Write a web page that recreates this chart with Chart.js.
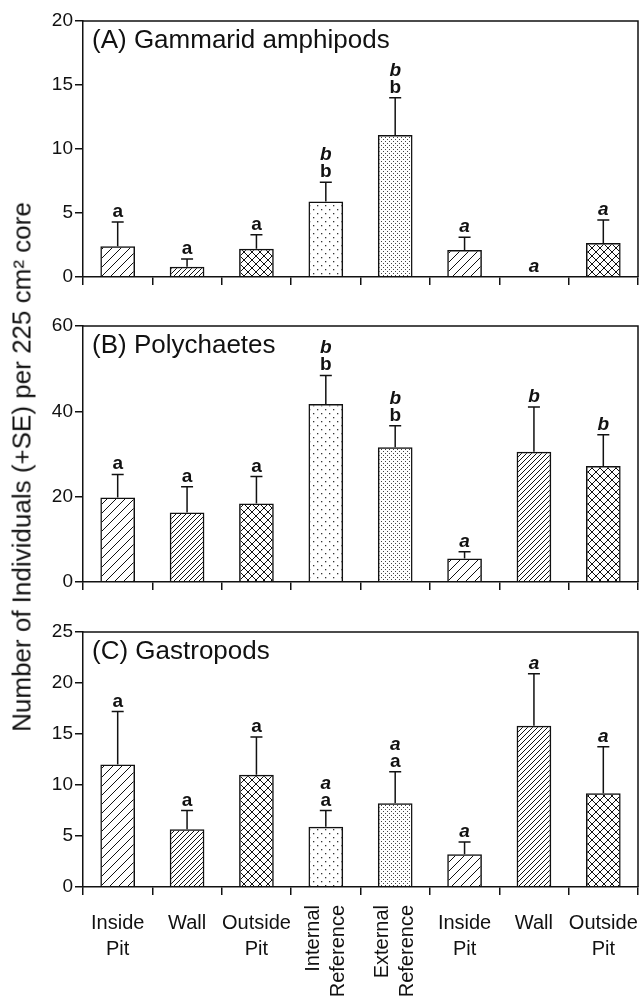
<!DOCTYPE html>
<html>
<head>
<meta charset="utf-8">
<script src="https://cdn.jsdelivr.net/npm/chart.js@4.4.1/dist/chart.umd.min.js"></script>
<style>
    body { margin: 0; background: #fff; }
    #wrap { position: relative; width: 641px; height: 996px; overflow: hidden; background: #fff; }
    canvas { position: absolute; left: 0; }
    #yTitle {
        position: absolute; left: 22px; top: 467px;
        transform: translate(-50%, -50%) rotate(-90deg);
        white-space: nowrap; color: #111;
        font: 26px "Liberation Sans", Arial, sans-serif;
    }
</style>
</head>
<body>
<div id="wrap">
    <canvas id="panelA" width="641" height="300" style="top:0"></canvas>
    <canvas id="panelB" width="641" height="300" style="top:300px"></canvas>
    <canvas id="panelC" width="641" height="396" style="top:600px"></canvas>
    <div id="yTitle">Number of Individuals (+SE) per 225 cm² core</div>
</div>
<script>
// categories along the x axis (same for all three panels)
const categories = [['Inside', 'Pit'], ['Wall'], ['Outside', 'Pit'], ['Internal', 'Reference'],
    ['External', 'Reference'], ['Inside', 'Pit'], ['Wall'], ['Outside', 'Pit']];
const rotatedLabel = [false, false, false, true, true, false, false, false];
const fillKinds = ['wide', 'dense', 'cross', 'sparseDots', 'denseDots', 'wide', 'dense', 'cross'];

// (A) Gammarid amphipods
const amphipodMeans = [2.4, 0.8, 2.2, 5.9, 11.1, 2.1, 0, 2.65];
const amphipodSE = [1.9, 0.6, 1.1, 1.5, 2.9, 1.0, 0, 1.8];
const amphipodPlain = ['a', 'a', 'a', 'b', 'b', '', '', ''];
const amphipodItalic = ['', '', '', 'b', 'b', 'a', 'a', 'a'];

// (B) Polychaetes
const polyMeans = [19.8, 16.3, 18.4, 41.7, 31.6, 5.5, 30.5, 27.2];
const polySE = [5.4, 6.0, 6.3, 6.7, 5.0, 1.6, 10.5, 7.3];
const polyPlain = ['a', 'a', 'a', 'b', 'b', '', '', ''];
const polyItalic = ['', '', '', 'b', 'b', 'a', 'b', 'b'];

// (C) Gastropods
const gastroMeans = [12.0, 5.65, 11.0, 5.9, 8.2, 3.2, 15.8, 9.2];
const gastroSE = [5.2, 1.85, 3.7, 1.6, 3.1, 1.2, 5.1, 4.55];
const gastroPlain = ['a', 'a', 'a', 'a', 'a', '', '', ''];
const gastroItalic = ['', '', '', 'a', 'a', 'a', 'a', 'a'];

const FONT = '"Liberation Sans", Arial, sans-serif';
const INK = '#111';

// hatch / dot fills
const makePattern = kind => {
    const c = document.createElement('canvas');
    const g = c.getContext('2d');
    const diag = (s, both) => {
        c.width = c.height = s;
        g.strokeStyle = INK;
        g.lineWidth = 1;
        g.beginPath();
        g.moveTo(0, s); g.lineTo(s, 0);
        g.moveTo(-1, 1); g.lineTo(1, -1);
        g.moveTo(s - 1, s + 1); g.lineTo(s + 1, s - 1);
        if (both) {
            g.moveTo(0, 0); g.lineTo(s, s);
            g.moveTo(-1, s - 1); g.lineTo(1, s + 1);
            g.moveTo(s - 1, -1); g.lineTo(s + 1, 1);
        }
        g.stroke();
    };
    if (kind === 'wide') diag(9, false);
    if (kind === 'dense') diag(5, false);
    if (kind === 'cross') diag(8, true);
    if (kind === 'sparseDots') {
        c.width = c.height = 8;
        g.fillStyle = '#333';
        g.fillRect(1, 1, 1.3, 1.3);
        g.fillRect(5, 5, 1.3, 1.3);
    }
    if (kind === 'denseDots') {
        c.width = c.height = 4;
        g.fillStyle = '#444';
        g.fillRect(1, 1, 1, 1);
        g.fillRect(3, 3, 1, 1);
    }
    return g.createPattern(c, 'repeat');
};

// box, error bars, letters, panel title, x labels
const panelPlugin = {
    id: 'panelExtras',
    afterDatasetsDraw(chart) {
        const o = chart.options.plugins.panelExtras;
        const { ctx, chartArea: a } = chart;
        const y = chart.scales.y;
        const meta = chart.getDatasetMeta(0);

        ctx.save();
        ctx.strokeStyle = INK;
        ctx.lineWidth = 1.5;
        ctx.beginPath();
        ctx.moveTo(a.left, a.top); ctx.lineTo(a.right, a.top); ctx.lineTo(a.right, a.bottom);
        ctx.stroke();

        meta.data.forEach((bar, i) => {
            const top = y.getPixelForValue(o.means[i] + o.se[i]);
            if (o.se[i] > 0) {
                ctx.beginPath();
                ctx.moveTo(bar.x, bar.y); ctx.lineTo(bar.x, top);
                ctx.moveTo(bar.x - 6, top); ctx.lineTo(bar.x + 6, top);
                ctx.stroke();
            }
            ctx.fillStyle = INK;
            ctx.textAlign = 'center';
            ctx.textBaseline = 'alphabetic';
            let base = top - 5;
            if (o.plain[i]) {
                ctx.font = `bold 19px ${FONT}`;
                ctx.fillText(o.plain[i], bar.x, base);
                base -= 17;
            }
            if (o.italic[i]) {
                ctx.font = `italic bold 19px ${FONT}`;
                ctx.fillText(o.italic[i], bar.x, base);
            }
        });

        ctx.textAlign = 'left';
        ctx.font = `26px ${FONT}`;
        ctx.fillText(o.title, a.left + 9, a.top + 27);

        if (o.xLabels) {
            const x = chart.scales.x;
            ctx.font = `20px ${FONT}`;
            categories.forEach((lines, i) => {
                const cx = x.getPixelForValue(i);
                if (rotatedLabel[i]) {
                    ctx.save();
                    ctx.translate(cx, a.bottom + 18);
                    ctx.rotate(-Math.PI / 2);
                    ctx.textAlign = 'right';
                    ctx.textBaseline = 'middle';
                    ctx.fillText(lines[0], 0, -12.5);
                    ctx.fillText(lines[1], 0, 12.5);
                    ctx.restore();
                } else {
                    ctx.textAlign = 'center';
                    lines.forEach((t, k) => ctx.fillText(t, cx, a.bottom + 42 + k * 26));
                }
            });
        }
        ctx.restore();
    }
};

const makePanel = (id, p) => new Chart(document.getElementById(id), {
    type: 'bar',
    data: {
        labels: categories.map(c => c.join(' ')),
        datasets: [{
            data: p.means,
            backgroundColor: fillKinds.map(makePattern),
            borderColor: INK,
            borderWidth: 1.5,
            categoryPercentage: 1,
            barPercentage: 0.5
        }]
    },
    options: {
        responsive: false,
        animation: false,
        layout: { padding: { top: p.padTop, right: 3, left: 0, bottom: 0 } },
        plugins: {
            legend: { display: false },
            tooltip: { enabled: false },
            panelExtras: p
        },
        scales: {
            x: {
                grid: { offset: true, drawOnChartArea: false, tickLength: 8, color: INK, lineWidth: 1.5 },
                border: { color: INK, width: 1.5 },
                ticks: { display: false },
                afterFit: s => { s.height = p.xHeight; }
            },
            y: {
                min: 0,
                max: p.max,
                ticks: { stepSize: p.step, color: INK, font: { family: FONT, size: 19 }, padding: 2 },
                grid: { drawOnChartArea: false, tickLength: 8, color: INK, lineWidth: 1.5 },
                border: { color: INK, width: 1.5 },
                afterFit: s => { s.width = 83; }
            }
        }
    },
    plugins: [panelPlugin]
});

makePanel('panelA', { title: '(A) Gammarid amphipods', means: amphipodMeans, se: amphipodSE,
    plain: amphipodPlain, italic: amphipodItalic, max: 20, step: 5, padTop: 21, xHeight: 23 });
makePanel('panelB', { title: '(B) Polychaetes', means: polyMeans, se: polySE,
    plain: polyPlain, italic: polyItalic, max: 60, step: 20, padTop: 26, xHeight: 18 });
makePanel('panelC', { title: '(C) Gastropods', means: gastroMeans, se: gastroSE,
    plain: gastroPlain, italic: gastroItalic, max: 25, step: 5, padTop: 32, xHeight: 109, xLabels: true });
</script>
</body>
</html>
